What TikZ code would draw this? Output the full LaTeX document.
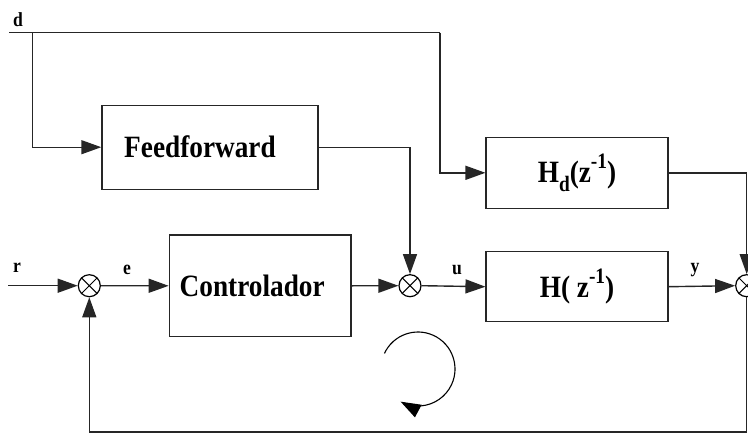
\documentclass[tikz,border=0pt]{standalone}
\usepackage{fontspec}
\setmainfont{Liberation Serif}
\newfontfamily\boxfont[FakeStretch=0.88]{Liberation Serif}
\usetikzlibrary{arrows.meta}
\newcommand{\mysub}[1]{\raisebox{-0.28em}{\fontsize{22}{22}\selectfont #1}}
\newcommand{\mysup}[1]{\raisebox{0.45em}{\fontsize{22}{22}\selectfont #1}}
\tikzset{
  conn/.style={line width=1.4pt, draw=black!85},
  arr/.style={conn, -{Triangle[length=20pt,width=14pt]}},
  blockbox/.style={draw=black!85, line width=1.4pt, minimum height=#1, inner sep=0pt,
    font=\boxfont\bfseries\fontsize{31}{31}\selectfont},
  sumnode/.style={circle, draw=black, line width=1.2pt, minimum size=22pt, inner sep=0pt,
    path picture={\draw[line width=1pt] (path picture bounding box.north west) -- (path picture bounding box.south east)
      (path picture bounding box.north east) -- (path picture bounding box.south west);}},
  sig/.style={font=\boxfont\bfseries\fontsize{20}{20}\selectfont, inner sep=0pt}
}
\begin{document}
\begin{tikzpicture}[x=1pt,y=-1pt]
\useasboundingbox (0,0) rectangle (748,434);
% blocks
\node[blockbox=84pt, minimum width=216pt] (ff) at (210,147.2) {Feedforward\hspace*{20pt}};
\node[blockbox=101.7pt, minimum width=181.7pt] (ctrl) at (260.2,285.8) {Controlador\hspace*{16pt}};
\node[blockbox=71pt, minimum width=181.7pt] (hd) at (577,172.8) {H\mysub{d}(z\mysup{-1})};
\node[blockbox=70pt, minimum width=181.7pt] (h) at (577,286.7) {H( z\mysup{-1})};
% sums
\node[sumnode] (s1) at (89.3,285.7) {};
\node[sumnode] (s2) at (410,285.7) {};
\node[sumnode] (s3) at (746.7,285.7) {};
% coordinates
\coordinate (dstart) at (9,32.7);
\coordinate (dbr) at (32.7,32.7);
\coordinate (dff) at (32.7,147.2);
\coordinate (dtop) at (440,32.7);
\coordinate (dhd) at (440,172.8);
\coordinate (ffc) at (410,147.2);
\coordinate (rstart) at (8,285.7);
\coordinate (hdc) at (746.7,172.8);
\coordinate (fb1) at (746.7,432);
\coordinate (fb2) at (89.3,432);
% connectors
\draw[conn] (dstart) -- (dtop);
\draw[arr] (dbr) -- (dff) -- (ff.west);
\draw[arr] (dtop) -- (dhd) -- (hd.west);
\draw[arr] (ff.east) -- (ffc) -- (s2.north);
\draw[arr] (rstart) -- (s1.west);
\draw[arr] (s1.east) -- (ctrl.west);
\draw[arr] (ctrl.east) -- (s2.west);
\draw[arr] (s2.east) -- (h.west);
\draw[arr] (h.east) -- (s3.west);
\draw[arr] (hd.east) -- (hdc) -- (s3.north);
\draw[arr] (s3.south) -- (fb1) -- (fb2) -- (s1.south);
% signal labels
\node[sig] (ld) at (18,20) {d};
\node[sig] (lr) at (17,268) {r};
\node[sig] (le) at (127,270) {e};
\node[sig] (lu) at (457,270) {u};
\node[sig] (ly) at (695,270) {y};
% circular arrow
\coordinate (cc) at (418,369);
\draw[line width=1.1pt, -{Triangle[length=20pt,width=14pt]}] ([shift={(205:37)}]cc) arc[start angle=205, end angle=478, radius=37];
\end{tikzpicture}
\end{document}
